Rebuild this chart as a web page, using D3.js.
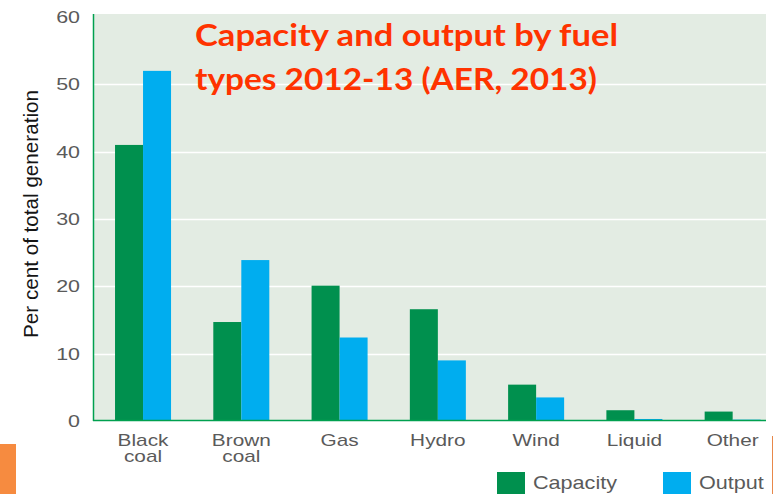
<!DOCTYPE html>
<html>
<head>
<meta charset="utf-8">
<script src="https://cdn.jsdelivr.net/npm/d3@7"></script>
<style>
  html, body { margin: 0; padding: 0; background: #ffffff; }
  svg { display: block; }
</style>
</head>
<body>
<svg id="chart" width="774" height="494"></svg>
<script>
// ---- data ----
const categories = ["Black coal", "Brown coal", "Gas", "Hydro", "Wind", "Liquid", "Other"];
const categoryLines = [["Black", "coal"], ["Brown", "coal"], ["Gas"], ["Hydro"], ["Wind"], ["Liquid"], ["Other"]];
const capacity = [41, 14.7, 20.1, 16.6, 5.4, 1.6, 1.4];
const output = [52, 23.9, 12.4, 9.0, 3.5, 0.3, 0.2];
const seriesNames = ["Capacity", "Output"];
const yTicks = [0, 10, 20, 30, 40, 50, 60];
const titleLines = ["Capacity and output by fuel", "types 2012-13 (AER, 2013)"];
const yTitle = "Per cent of total generation";

// ---- styles ----
const colors = { Capacity: "#00904e", Output: "#00adef" };
const bgColor = "#e3ece3";
const axisGreen = "#00a04f";
const textGray = "#5a5a5a";
const stretch = 1.3;

const svg = d3.select("#chart");

const plot = { left: 93, right: 766, top: 14, bottom: 421 };

const y = d3.scaleLinear().domain([0, 60]).range([421, 17]);
const x = d3.scaleBand().domain(categories).range([93.9, 781.8]).paddingInner(0.43).paddingOuter(0.215);
const xs = d3.scaleBand().domain(seriesNames).range([0, x.bandwidth()]);

// background
svg.append("rect").attr("x", plot.left).attr("y", plot.top)
  .attr("width", plot.right - plot.left).attr("height", plot.bottom - plot.top)
  .attr("fill", bgColor);

// gridlines
svg.append("g").selectAll("line").data(yTicks.filter(d => d > 0 && d < 60)).join("line")
  .attr("x1", plot.left).attr("x2", plot.right)
  .attr("y1", d => Math.round(y(d)) + 0.5).attr("y2", d => Math.round(y(d)) + 0.5)
  .attr("stroke", "#ffffff").attr("stroke-width", 1.5);

// bars
const rows = categories.map((c, i) => ({ cat: c, values: [
  { s: "Capacity", v: capacity[i] }, { s: "Output", v: output[i] }] }));

const groups = svg.append("g").selectAll("g").data(rows).join("g")
  .attr("transform", d => `translate(${x(d.cat)},0)`);
groups.selectAll("rect").data(d => d.values).join("rect")
  .attr("x", d => xs(d.s)).attr("width", xs.bandwidth())
  .attr("y", d => y(d.v)).attr("height", d => y(0) - y(d.v))
  .attr("fill", d => colors[d.s]);

// axes lines
svg.append("line").attr("x1", plot.left + 0.5).attr("x2", plot.left + 0.5)
  .attr("y1", plot.top).attr("y2", plot.bottom)
  .attr("stroke", axisGreen).attr("stroke-width", 1.5);
svg.append("line").attr("x1", plot.left).attr("x2", plot.right)
  .attr("y1", plot.bottom - 0.5).attr("y2", plot.bottom - 0.5)
  .attr("stroke", axisGreen).attr("stroke-width", 1.5);

// y tick labels
svg.append("g").selectAll("text").data(yTicks).join("text")
  .attr("transform", d => `translate(80,${y(d) + 6}) scale(${stretch},1)`)
  .attr("text-anchor", "end")
  .attr("font-family", "Liberation Sans, Arial, sans-serif")
  .attr("font-size", 16.5).attr("fill", textGray)
  .text(d => d);

// x labels
const xl = svg.append("g").selectAll("text").data(categories).join("text")
  .attr("transform", d => `translate(${x(d) + x.bandwidth() / 2},445.5) scale(${stretch},1)`)
  .attr("text-anchor", "middle")
  .attr("font-family", "Liberation Sans, Arial, sans-serif")
  .attr("font-size", 16).attr("fill", textGray);
xl.selectAll("tspan").data((d, i) => categoryLines[i]).join("tspan")
  .attr("x", 0).attr("dy", (d, i) => i === 0 ? 0 : 16.5).text(d => d);

// y axis title
svg.append("text")
  .attr("transform", `translate(38,214) rotate(-90)`)
  .attr("text-anchor", "middle")
  .attr("font-family", "Liberation Sans, Arial, sans-serif")
  .attr("font-size", 21).attr("fill", "#151515")
  .attr("textLength", 248).attr("lengthAdjust", "spacingAndGlyphs")
  .text(yTitle);

// chart title
const titleWidths = [423, 402];
svg.append("g").selectAll("text").data(titleLines).join("text")
  .attr("x", 195).attr("y", (d, i) => 46 + i * 44)
  .attr("font-family", "Lato, Open Sans, sans-serif")
  .attr("font-weight", "bold")
  .attr("font-size", 31).attr("fill", "#ff3300")
  .attr("textLength", (d, i) => titleWidths[i]).attr("lengthAdjust", "spacingAndGlyphs")
  .text(d => d);

// legend
const legendX = [497, 663];
const lg = svg.append("g").selectAll("g").data(seriesNames).join("g")
  .attr("transform", (d, i) => `translate(${legendX[i]},472)`);
lg.append("rect").attr("width", 28).attr("height", 28).attr("fill", d => colors[d]);
lg.append("text")
  .attr("transform", `translate(36,17) scale(1.2,1)`)
  .attr("font-family", "Liberation Sans, Arial, sans-serif")
  .attr("font-size", 18).attr("fill", textGray)
  .text(d => d);

// slide decorations
svg.append("rect").attr("x", 0).attr("y", 444).attr("width", 16).attr("height", 50).attr("fill", "#f68b40");
svg.append("line").attr("x1", 772.5).attr("x2", 772.5).attr("y1", 436).attr("y2", 494)
  .attr("stroke", "#e8884a").attr("stroke-width", 1);
</script>
</body>
</html>
